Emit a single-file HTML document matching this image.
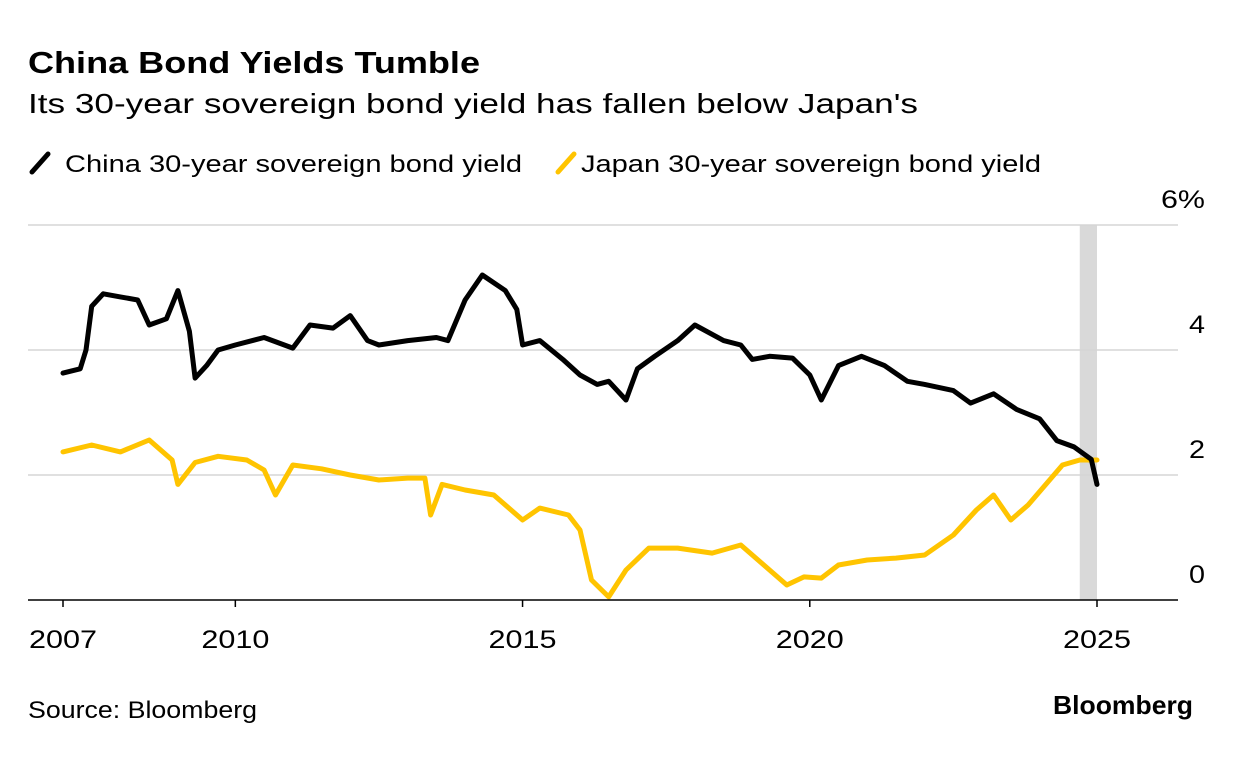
<!DOCTYPE html>
<html><head><meta charset="utf-8"><style>
body{margin:0;background:#fff;font-family:"Liberation Sans",Arial,sans-serif;}
svg{display:block}
</style></head><body>
<svg id="chart" width="1233" height="766" font-family="Liberation Sans, Arial, sans-serif">
<text x="28" y="73" font-size="31" font-weight="bold" fill="#000" textLength="452" lengthAdjust="spacingAndGlyphs">China Bond Yields Tumble</text>
<text x="28" y="113" font-size="28" fill="#000" textLength="890" lengthAdjust="spacingAndGlyphs">Its 30-year sovereign bond yield has fallen below Japan's</text>
<g>
<line x1="32" y1="172" x2="48" y2="154" stroke="#000" stroke-width="5" stroke-linecap="round"/>
<text x="65" y="172" font-size="24" fill="#000" textLength="457" lengthAdjust="spacingAndGlyphs">China 30-year sovereign bond yield</text>
<line x1="558" y1="172" x2="574" y2="154" stroke="#ffc400" stroke-width="5" stroke-linecap="round"/>
<text x="581" y="172" font-size="24" fill="#000" textLength="460" lengthAdjust="spacingAndGlyphs">Japan 30-year sovereign bond yield</text>
</g>
<g id="grid"></g>
<g id="marks"></g>
<g id="axes"></g>
<text x="28" y="718" font-size="24" fill="#000" textLength="229" lengthAdjust="spacingAndGlyphs">Source: Bloomberg</text>
<text x="1193" y="714" font-size="26" font-weight="bold" fill="#000" text-anchor="end" textLength="140" lengthAdjust="spacingAndGlyphs">Bloomberg</text>
</svg>
<script>
const chinaYears=[2007.0,2007.3,2007.4,2007.5,2007.7,2008.0,2008.3,2008.5,2008.8,2009.0,2009.2,2009.3,2009.5,2009.7,2010.0,2010.5,2011.0,2011.3,2011.7,2012.0,2012.3,2012.5,2013.0,2013.5,2013.7,2014.0,2014.3,2014.7,2014.9,2015.0,2015.3,2015.7,2016.0,2016.3,2016.5,2016.8,2017.0,2017.3,2017.7,2018.0,2018.5,2018.8,2019.0,2019.3,2019.7,2020.0,2020.2,2020.5,2020.9,2021.3,2021.7,2022.0,2022.5,2022.8,2023.2,2023.6,2024.0,2024.3,2024.6,2024.9,2025.0];
const chinaValues=[3.63,3.7,4.0,4.7,4.9,4.85,4.8,4.4,4.5,4.95,4.3,3.55,3.75,4.0,4.08,4.2,4.03,4.4,4.35,4.55,4.15,4.08,4.15,4.2,4.15,4.8,5.2,4.95,4.65,4.08,4.15,3.85,3.6,3.45,3.5,3.2,3.7,3.9,4.15,4.4,4.15,4.08,3.85,3.9,3.87,3.6,3.2,3.75,3.9,3.75,3.5,3.45,3.35,3.15,3.3,3.05,2.9,2.55,2.45,2.25,1.85];
const japanYears=[2007.0,2007.5,2008.0,2008.5,2008.9,2009.0,2009.3,2009.7,2010.2,2010.5,2010.7,2011.0,2011.5,2012.0,2012.5,2013.0,2013.3,2013.4,2013.6,2014.0,2014.5,2015.0,2015.3,2015.8,2016.0,2016.2,2016.5,2016.8,2017.2,2017.7,2018.3,2018.8,2019.2,2019.6,2019.9,2020.2,2020.5,2021.0,2021.5,2022.0,2022.5,2022.9,2023.2,2023.5,2023.8,2024.1,2024.4,2024.7,2025.0];
const japanValues=[2.37,2.48,2.37,2.56,2.24,1.85,2.2,2.3,2.24,2.08,1.68,2.16,2.1,2.0,1.92,1.95,1.95,1.36,1.85,1.76,1.68,1.28,1.47,1.36,1.12,0.32,0.05,0.48,0.83,0.83,0.75,0.88,0.56,0.24,0.37,0.35,0.56,0.64,0.67,0.72,1.04,1.44,1.68,1.28,1.52,1.84,2.16,2.24,2.24];
const yTicks=[0,2,4,6];
const yTickLabels=["0","2","4","6%"];
const xTicks=[2007,2010,2015,2020,2025];
const xTickLabels=["2007","2010","2015","2020","2025"];
const shadeRange=[2024.7,2025.0];

const NS="http://www.w3.org/2000/svg";
const X=yr=>63+(yr-2007)*(1097-63)/18;
const Y=v=>600-v*62.5;
function mk(tag,attrs,parent){const e=document.createElementNS(NS,tag);for(const k in attrs)e.setAttribute(k,attrs[k]);parent.appendChild(e);return e;}
const grid=document.getElementById('grid'),marks=document.getElementById('marks'),axes=document.getElementById('axes');

const sh=mk('rect',{x:X(shadeRange[0]),y:225,width:X(shadeRange[1])-X(shadeRange[0]),height:375,fill:'#d9d9d9'},grid);



yTicks.forEach((t,i)=>{
  if(t>0){const g=mk('line',{x1:28,x2:1178,y1:Y(t),y2:Y(t),stroke:'#d6d6d6','stroke-width':1.5},grid);
  
  }
  const lab=yTickLabels[i];
  const tx=mk('text',{x:1205,y:Y(t)-17,'font-size':25,'text-anchor':'end',fill:'#000',textLength:lab.length*16,lengthAdjust:'spacingAndGlyphs'},axes);
  if(lab.length>1)tx.setAttribute('textLength',44);
  tx.textContent=lab;
  
  
});

function path(xs,vs,color,name){
  const d=xs.map((x,i)=>(i?'L':'M')+X(x).toFixed(1)+','+Y(vs[i]).toFixed(1)).join('');
  const p=mk('path',{d:d,fill:'none',stroke:color,'stroke-width':5,'stroke-linejoin':'round','stroke-linecap':'round'},marks);
  
  
}
path(japanYears,japanValues,'#ffc400','japan-yield-line');
path(chinaYears,chinaValues,'#000','china-yield-line');

const base=mk('line',{x1:28,x2:1178,y1:600,y2:600,stroke:'#000','stroke-width':1.5},axes);


xTicks.forEach((t,i)=>{
  const tk=mk('line',{x1:X(t),x2:X(t),y1:600,y2:607,stroke:'#000','stroke-width':1.5},axes);
  
  
  const tx=mk('text',{x:X(t),y:648,'font-size':25,'text-anchor':'middle',fill:'#000',textLength:68,lengthAdjust:'spacingAndGlyphs'},axes);
  tx.textContent=xTickLabels[i];
  
  
});
</script>
</body></html>
